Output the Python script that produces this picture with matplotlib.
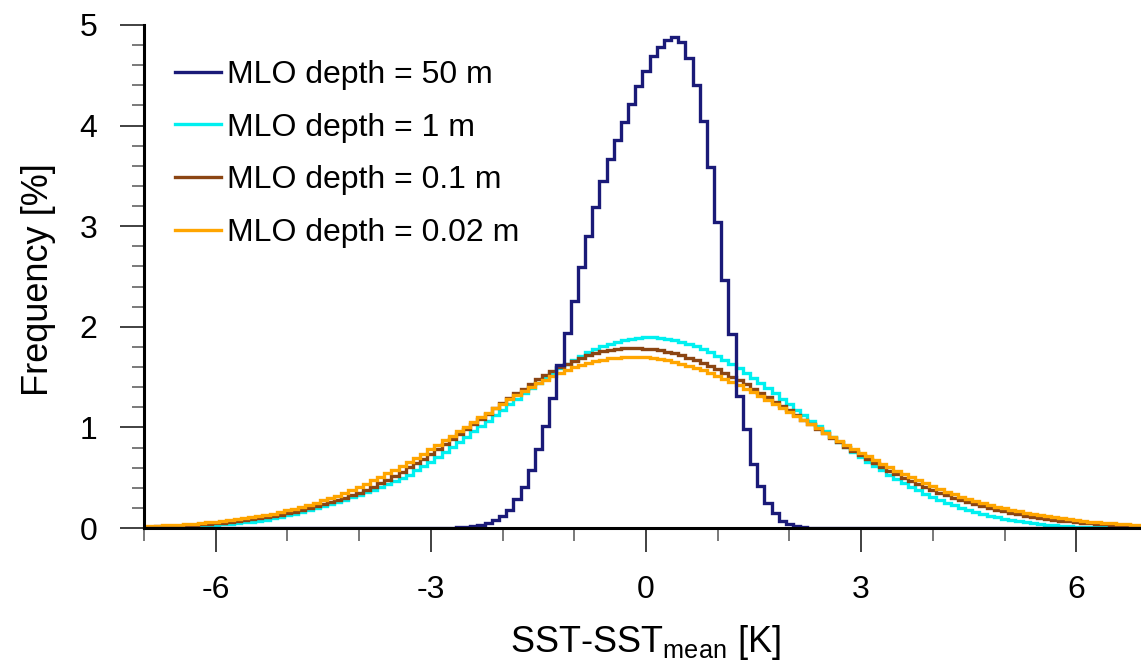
import numpy as np
import matplotlib
matplotlib.use("Agg")
import matplotlib.pyplot as plt
from matplotlib.ticker import MultipleLocator, FixedLocator
from matplotlib.lines import Line2D

# ---------------- data ----------------
# bin centres of SST - SST_mean [K], bin width 0.1 K
bin_width = 0.1
sst_bins = np.round(np.arange(-70, 71) * bin_width, 1)

labels = ["MLO depth = 50 m", "MLO depth = 1 m",
          "MLO depth = 0.1 m", "MLO depth = 0.02 m"]

# frequency [%] per bin, from x = -7.0 to 7.0
freq_50m = ([0.0] * 43 +
            [0.003, 0.005, 0.01, 0.015, 0.03, 0.05, 0.08, 0.12, 0.18, 0.29,
             0.41, 0.58, 0.79, 1.01, 1.29, 1.62, 1.94, 2.26, 2.59, 2.90,
             3.19, 3.45, 3.67, 3.86, 4.04, 4.21, 4.39,
             4.54, 4.69, 4.78, 4.85, 4.88, 4.83, 4.67, 4.40, 4.05, 3.59,
             3.04, 2.47, 1.93, 1.31, 0.98, 0.64, 0.42, 0.25, 0.15, 0.07,
             0.035, 0.018, 0.008, 0.004] +
            [0.0] * 47)

freq_1m = [
    0.007, 0.008, 0.009, 0.011, 0.013, 0.015, 0.017, 0.020, 0.023, 0.026,
    0.030, 0.035, 0.041, 0.048, 0.055, 0.064, 0.073, 0.084, 0.096, 0.111,
    0.126, 0.142, 0.158, 0.176, 0.196, 0.217, 0.238, 0.260, 0.283, 0.307,
    0.330, 0.355, 0.381, 0.410, 0.439, 0.468, 0.496, 0.531, 0.572, 0.615,
    0.660, 0.706, 0.754, 0.804, 0.855, 0.907, 0.960, 1.013, 1.068, 1.122,
    1.177, 1.232, 1.286, 1.339, 1.392, 1.443, 1.493, 1.541, 1.587, 1.631,
    1.672, 1.711, 1.746, 1.778, 1.806, 1.831, 1.852, 1.869, 1.882, 1.890,
    1.894,
    1.894, 1.890, 1.882, 1.869, 1.852, 1.831, 1.806, 1.778, 1.746, 1.711,
    1.672, 1.631, 1.587, 1.541, 1.493, 1.443, 1.392, 1.339, 1.286, 1.232,
    1.177, 1.122, 1.068, 1.013, 0.960, 0.907, 0.855, 0.804, 0.754, 0.706,
    0.660, 0.615, 0.572, 0.531, 0.491, 0.450, 0.412, 0.376, 0.342, 0.310,
    0.280, 0.253, 0.227, 0.203, 0.180, 0.160, 0.140, 0.123, 0.107, 0.091,
    0.078, 0.067, 0.057, 0.048, 0.040, 0.034, 0.028, 0.023, 0.018, 0.014,
    0.011, 0.009, 0.007, 0.006, 0.005, 0.004, 0.003, 0.003, 0.002, 0.002,
]

freq_01m = [
    0.012, 0.014, 0.016, 0.018, 0.021, 0.024, 0.028, 0.032,
    0.036, 0.041, 0.047, 0.053, 0.060, 0.068, 0.076, 0.086, 0.096, 0.107,
    0.119, 0.132, 0.146, 0.161, 0.178, 0.195, 0.214, 0.234, 0.255, 0.277,
    0.300, 0.325, 0.352, 0.380, 0.412, 0.446, 0.482, 0.520, 0.561, 0.602,
    0.645, 0.690, 0.735, 0.783, 0.831, 0.881, 0.930, 0.981, 1.034, 1.086,
    1.137, 1.188, 1.239, 1.290, 1.338, 1.386, 1.433, 1.478, 1.520, 1.560,
    1.598, 1.633, 1.664, 1.693, 1.718, 1.740, 1.757, 1.772, 1.782, 1.788,
    1.790,
    1.788, 1.784, 1.777, 1.766, 1.753, 1.737, 1.717, 1.691, 1.666, 1.639,
    1.608, 1.576, 1.542, 1.505, 1.467, 1.427, 1.386, 1.344, 1.301, 1.257,
    1.212, 1.168, 1.122, 1.076, 1.030, 0.985, 0.940, 0.896, 0.852, 0.808,
    0.766, 0.724, 0.684, 0.645, 0.607, 0.570, 0.535, 0.500, 0.468, 0.436,
    0.406, 0.378, 0.350, 0.324, 0.300, 0.277, 0.255, 0.234, 0.215, 0.197,
    0.180, 0.165, 0.150, 0.137, 0.124, 0.112, 0.101, 0.091, 0.082, 0.074,
    0.067, 0.060, 0.054, 0.048, 0.043, 0.038, 0.034, 0.030, 0.027, 0.024,
    0.021, 0.019,
]

freq_002m = [
    0.018, 0.020, 0.023, 0.026, 0.030, 0.034, 0.038, 0.043,
    0.049, 0.055, 0.061, 0.069, 0.077, 0.086, 0.095, 0.106, 0.117, 0.130,
    0.144, 0.159, 0.175, 0.192, 0.210, 0.230, 0.251, 0.274, 0.298, 0.323,
    0.350, 0.378, 0.408, 0.440, 0.473, 0.507, 0.543, 0.580, 0.619, 0.657,
    0.698, 0.740, 0.783, 0.826, 0.871, 0.916, 0.962, 1.007, 1.053, 1.099,
    1.144, 1.190, 1.234, 1.278, 1.320, 1.361, 1.401, 1.439, 1.475, 1.509,
    1.540, 1.569, 1.596, 1.620, 1.641, 1.659, 1.673, 1.685, 1.693, 1.698,
    1.700,
    1.699, 1.695, 1.688, 1.678, 1.666, 1.652, 1.635, 1.615, 1.593, 1.569,
    1.543, 1.515, 1.485, 1.453, 1.420, 1.385, 1.349, 1.312, 1.274, 1.234,
    1.194, 1.154, 1.113, 1.072, 1.031, 0.990, 0.949, 0.908, 0.867, 0.827,
    0.788, 0.749, 0.711, 0.674, 0.638, 0.602, 0.568, 0.535, 0.503, 0.473,
    0.443, 0.415, 0.388, 0.362, 0.337, 0.313, 0.291, 0.270, 0.249, 0.230,
    0.212, 0.195, 0.179, 0.165, 0.151, 0.138, 0.126, 0.115, 0.105, 0.095,
    0.087, 0.079, 0.071, 0.064, 0.058, 0.052, 0.047, 0.042, 0.038, 0.034,
    0.030, 0.027,
]

for s in (freq_50m, freq_1m, freq_01m, freq_002m):
    assert len(s) == len(sst_bins), len(s)

x_major = [-6, -3, 0, 3, 6]
x_major_labels = ["-6", "-3", "0", "3", "6"]
y_major = [0, 1, 2, 3, 4, 5]

# ---------------- style ----------------
plt.rcParams["font.family"] = ["Liberation Sans", "DejaVu Sans"]
plt.rcParams["mathtext.fontset"] = "custom"
plt.rcParams["mathtext.rm"] = "Liberation Sans"
plt.rcParams["mathtext.it"] = "Liberation Sans"
plt.rcParams["axes.unicode_minus"] = False

colors = {"50": "#1a1a78", "1": "#00f0f0", "0.1": "#8b4513", "0.02": "#ffa500"}
lw = 2.4

W, H = 1141, 665
fig = plt.figure(figsize=(W / 100, H / 100), dpi=100)
ax = fig.add_axes([144 / W, 137 / H, 1004 / W, 503 / H])

edges = np.concatenate([sst_bins - bin_width / 2, [sst_bins[-1] + bin_width / 2]])

ax.stairs(freq_1m, edges, baseline=None, color=colors["1"], lw=lw, zorder=2)
ax.stairs(freq_01m, edges, baseline=None, color=colors["0.1"], lw=lw, zorder=3)
ax.stairs(freq_002m, edges, baseline=None, color=colors["0.02"], lw=lw, zorder=4)
ax.stairs(freq_50m, edges, baseline=None, color=colors["50"], lw=lw, zorder=5)

ax.set_xlim(-7, 7)
ax.set_ylim(0, 5)

for side in ("top", "right"):
    ax.spines[side].set_visible(False)
for side in ("left", "bottom"):
    ax.spines[side].set_linewidth(2.2)
    ax.spines[side].set_zorder(6)

ax.xaxis.set_major_locator(FixedLocator(x_major))
ax.set_xticklabels(x_major_labels)
ax.xaxis.set_minor_locator(MultipleLocator(1))
ax.yaxis.set_major_locator(FixedLocator(y_major))
ax.yaxis.set_minor_locator(MultipleLocator(0.2))

ax.tick_params(axis="both", which="major", direction="out", length=17.5,
               width=1.3, color="#333333", labelsize=23)
ax.tick_params(axis="both", which="minor", direction="out", length=9,
               width=1.1, color="#555555")
ax.tick_params(axis="y", which="major", pad=16)
ax.tick_params(axis="x", which="major", pad=16)

ax.set_xlabel("SST-SST$_{\\mathrm{mean}}$ [K]", fontsize=26)
ax.set_ylabel("Frequency [%]", fontsize=26)
ax.xaxis.set_label_coords(0.4995, -0.189)
ax.yaxis.set_label_coords(-0.088, 0.493)

handles = [Line2D([], [], color=colors["50"], lw=lw),
           Line2D([], [], color=colors["1"], lw=lw),
           Line2D([], [], color=colors["0.1"], lw=lw),
           Line2D([], [], color=colors["0.02"], lw=lw)]
fig.legend(handles, labels, loc="upper left",
           bbox_to_anchor=(175 / W, 1 - 60 / H), frameon=False,
           fontsize=23, handlelength=1.44, handletextpad=0.19,
           labelspacing=0.71, borderpad=0, borderaxespad=0)

fig.savefig("out.png", dpi=100)
